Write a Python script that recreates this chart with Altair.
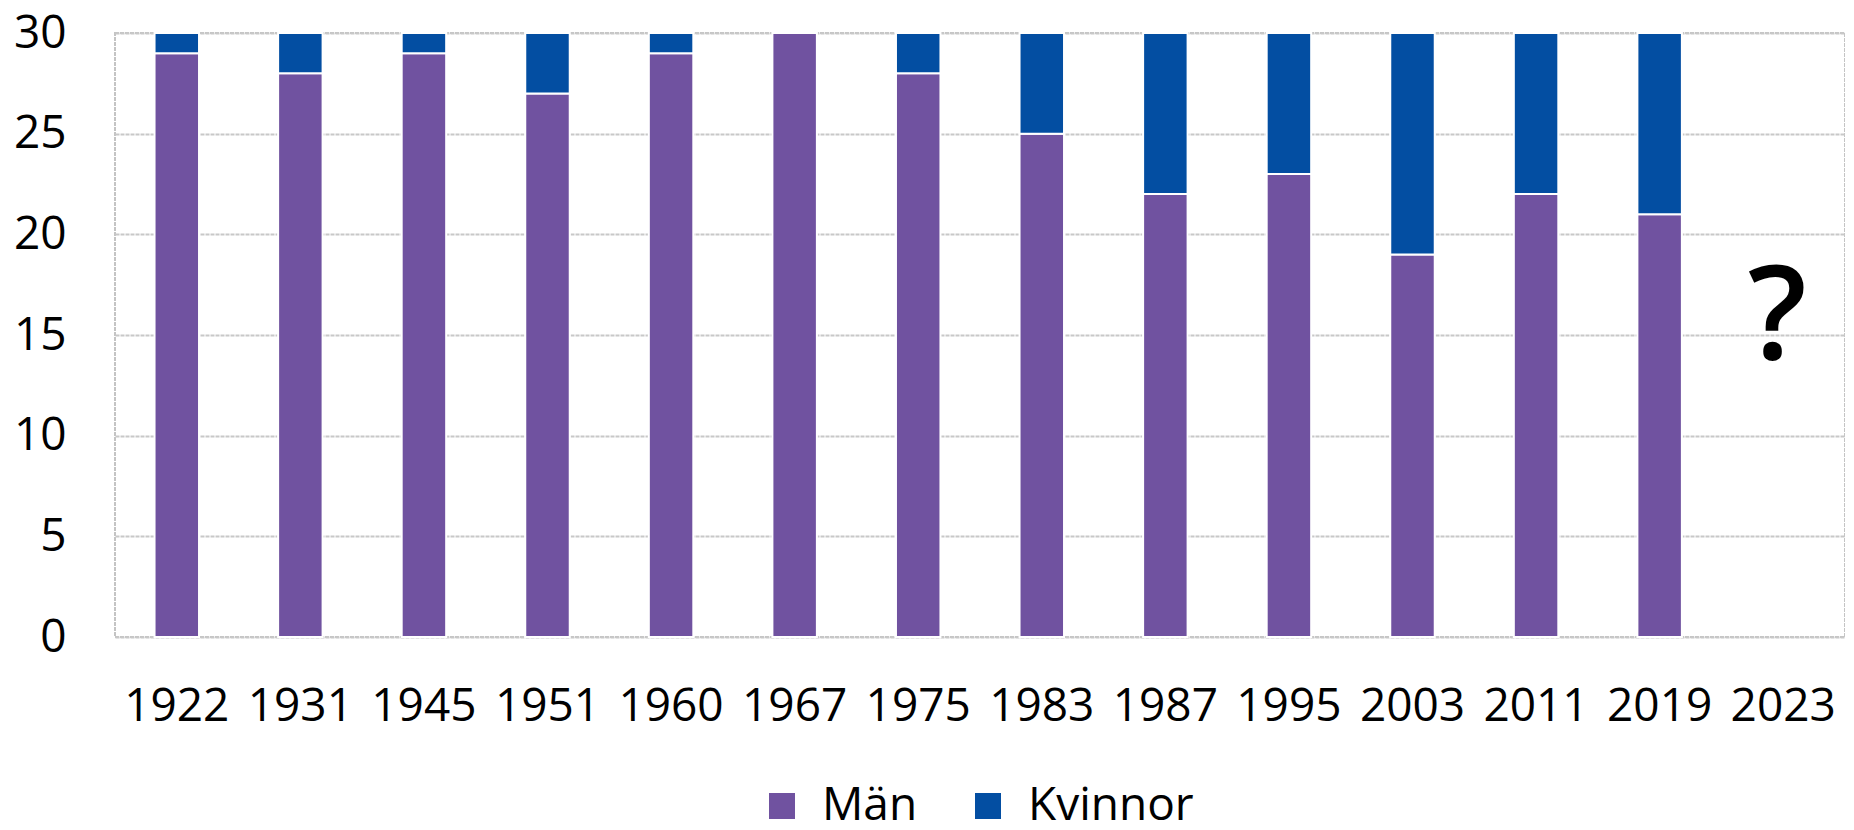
import altair as alt
import pandas as pd

years = ["1922", "1931", "1945", "1951", "1960", "1967", "1975",
         "1983", "1987", "1995", "2003", "2011", "2019", "2023"]
man = [29, 28, 29, 27, 29, 30, 28, 25, 22, 23, 19, 22, 21, None]
kvinnor = [1, 2, 1, 3, 1, 0, 2, 5, 8, 7, 11, 8, 9, None]
series = ["Män", "Kvinnor"]
colors = ["#7052A0", "#034EA2"]
y_ticks = [0, 5, 10, 15, 20, 25, 30]
unknown_year = ["2023"]
unknown_label = ["?"]
unknown_y = [13.8]

rows = []
for i, yr in enumerate(years):
    for k, (name, vals) in enumerate(zip(series, [man, kvinnor])):
        v = vals[i]
        if v is not None and v > 0:
            rows.append({"year": yr, "series": name, "value": v, "ord": k})
df = pd.DataFrame(rows)
qdf = pd.DataFrame({"year": unknown_year, "label": unknown_label, "y": unknown_y})

FONT = "Open Sans"

xscale = alt.Scale(domain=years, paddingInner=0.64, paddingOuter=0.32)
xaxis = alt.Axis(title=None, labelAngle=0, labelPadding=47, ticks=False, domain=False,
                 labelFontSize=46, labelFont=FONT, labelColor="black", grid=False)
yscale = alt.Scale(domain=[0, 30], nice=False)
yaxis = alt.Axis(title=None, values=y_ticks, ticks=False, domain=False, labelPadding=49,
                 labelFontSize=46, labelFont=FONT, labelColor="black", grid=True,
                 gridColor="#C8C8C8", gridWidth=2, gridDash=[4, 1])

bars = alt.Chart(df).mark_bar(stroke="white", strokeWidth=2).encode(
    x=alt.X("year:N", scale=xscale, axis=xaxis),
    y=alt.Y("value:Q", stack="zero", scale=yscale, axis=yaxis),
    color=alt.Color("series:N", scale=alt.Scale(domain=series, range=colors),
                    legend=alt.Legend(title=None, orient="none", direction="horizontal",
                                      legendX=644, legendY=750, symbolType="square",
                                      symbolSize=676, symbolStrokeWidth=0,
                                      labelFontSize=46, labelFont=FONT, labelColor="black",
                                      labelLimit=400, labelOffset=17, columnPadding=47,
                                      padding=0)),
    order=alt.Order("ord:Q", sort="ascending"),
)

q = alt.Chart(qdf).mark_text(fontSize=130, font=FONT, fontWeight=600, baseline="alphabetic",
                             align="center", dx=-6, color="black").encode(
    x=alt.X("year:N", scale=xscale, axis=xaxis),
    y=alt.Y("y:Q", scale=yscale, axis=yaxis),
    text="label:N",
)

chart = alt.layer(bars, q).properties(
    width=1730, height=604,
    padding={"left": 107, "top": 25, "right": 0, "bottom": 185},
    autosize=alt.AutoSizeParams(type="none"),
).configure_view(stroke="#C4C4C4", strokeWidth=2, strokeDash=[4, 1])

chart.save("out.html", embed_options={"renderer": "svg", "actions": False})
